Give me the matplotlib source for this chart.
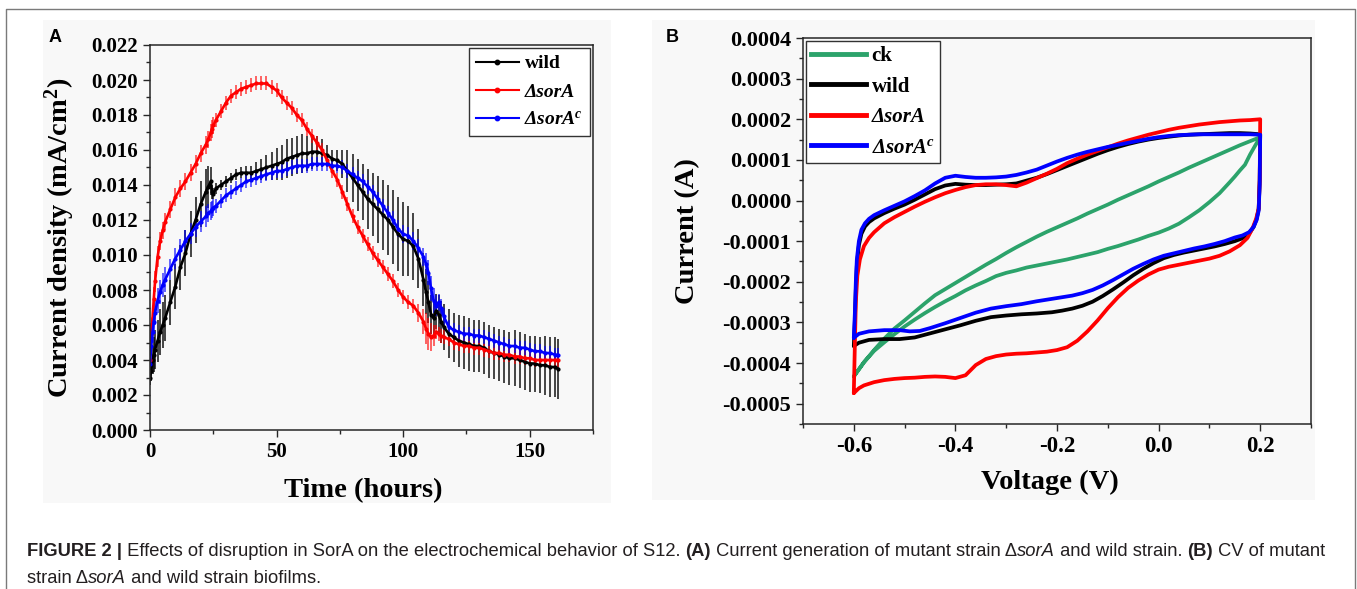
import matplotlib
matplotlib.use('Agg')
import matplotlib.pyplot as plt
from matplotlib.ticker import MultipleLocator, FuncFormatter
from matplotlib.lines import Line2D
from matplotlib.patches import Rectangle
from matplotlib.font_manager import FontProperties
from matplotlib.colors import to_rgba

plt.rcParams['font.family'] = ['Liberation Serif', 'DejaVu Serif']
plt.rcParams['font.weight'] = 'bold'
plt.rcParams['axes.unicode_minus'] = False
plt.rcParams['mathtext.fontset'] = 'custom'
plt.rcParams['mathtext.rm'] = 'Liberation Serif:bold'
plt.rcParams['mathtext.bf'] = 'Liberation Serif:bold'
plt.rcParams['mathtext.it'] = 'Liberation Serif:italic:bold'

# ---------------- Panel A data (current density, mA/cm^2) ----------------
time_h = [0, 0.5, 1, 1.5, 2, 3, 4, 5, 6,
          8, 10, 12, 14, 16, 18, 20, 22,
          23, 24, 24.5, 25,
          26, 28, 30, 32, 34, 36, 38, 40, 42, 44, 46, 48, 50, 52, 54, 56, 58, 60,
          62, 64, 66, 68, 70, 72, 74, 76, 78, 80, 82, 84, 86, 88, 90, 92, 94, 96,
          98, 100, 102, 104, 106, 108,
          109, 110, 111, 112, 113, 114, 115, 116,
          118, 120, 122, 124, 126, 128, 130, 132, 134, 136, 138, 140, 142, 144,
          146, 148, 150, 152, 154, 156, 158, 160,
          161]

wild_j = [0.0030, 0.0034, 0.0040, 0.0043, 0.0046, 0.0051, 0.0056, 0.0060, 0.0064,
          0.0073, 0.0082, 0.0093, 0.0101, 0.0112, 0.0120, 0.0129, 0.0136,
          0.0139, 0.0142, 0.0136, 0.0135,
          0.0138, 0.0140, 0.0142, 0.0144, 0.0146, 0.0147, 0.0147, 0.0147, 0.0148, 0.0149,
          0.0150, 0.0151, 0.0152, 0.0153, 0.0155, 0.0156, 0.0157, 0.0158,
          0.0158, 0.0159, 0.0159, 0.0158, 0.0157, 0.0155, 0.0154, 0.0152, 0.0148, 0.0144,
          0.0140, 0.0136, 0.0132, 0.0129, 0.0126, 0.0123, 0.0120, 0.0116,
          0.0112, 0.0109, 0.0108, 0.0105, 0.0098, 0.0086,
          0.0079, 0.0073, 0.0066, 0.0064, 0.0068, 0.0066, 0.0062, 0.0059,
          0.0055, 0.0053, 0.0051, 0.0050, 0.0049, 0.0048, 0.0048, 0.0047, 0.0045, 0.0044,
          0.0043, 0.0042, 0.0041, 0.0041, 0.0040, 0.0039, 0.0038, 0.0038, 0.0037, 0.0037,
          0.0036, 0.0036,
          0.0035]
wild_err = [0.0004, 0.0006, 0.0008, 0.0010, 0.0011, 0.0012, 0.0013, 0.0013, 0.0013,
            0.0013, 0.0013, 0.0013, 0.0013, 0.0013, 0.0013, 0.0013, 0.0013,
            0.0012, 0.0008, 0.0004, 0.0003,
            0.0003, 0.0003, 0.0003, 0.0003, 0.0003, 0.0003, 0.0004, 0.0004, 0.0005, 0.0006,
            0.0007, 0.0008, 0.0009, 0.0010, 0.0011, 0.0011, 0.0011, 0.0011,
            0.0010, 0.0010, 0.0009, 0.0008, 0.0006, 0.0005, 0.0006, 0.0008, 0.0012, 0.0014,
            0.0015, 0.0016, 0.0017, 0.0018, 0.0019, 0.0020, 0.0020, 0.0021,
            0.0021, 0.0021, 0.0020, 0.0019, 0.0017, 0.0015,
            0.0013, 0.0012, 0.0011, 0.0010, 0.0010, 0.0011, 0.0012, 0.0013,
            0.0014, 0.0014, 0.0015, 0.0015, 0.0015, 0.0015, 0.0015, 0.0015, 0.0015, 0.0015,
            0.0015, 0.0015, 0.0015, 0.0016, 0.0016, 0.0016, 0.0016, 0.0016, 0.0016, 0.0017,
            0.0017, 0.0017,
            0.0017]

sorA_j = [0.0040, 0.0055, 0.0064, 0.0075, 0.0085, 0.0099, 0.0108, 0.0114, 0.0119,
          0.0126, 0.0133, 0.0138, 0.0142, 0.0147, 0.0152, 0.0158, 0.0163,
          0.0166, 0.0170, 0.0172, 0.0174,
          0.0177, 0.0182, 0.0187, 0.0191, 0.0193, 0.0195, 0.0196, 0.0197, 0.0198, 0.0198,
          0.0198, 0.0196, 0.0194, 0.0190, 0.0187, 0.0184, 0.0180, 0.0177,
          0.0172, 0.0168, 0.0164, 0.0160, 0.0154, 0.0148, 0.0143, 0.0136, 0.0129, 0.0122,
          0.0116, 0.0111, 0.0106, 0.0101, 0.0097, 0.0093, 0.0089, 0.0085,
          0.0080, 0.0076, 0.0073, 0.0071, 0.0067, 0.0062,
          0.0058, 0.0055, 0.0053, 0.0054, 0.0056, 0.0055, 0.0054, 0.0053,
          0.0052, 0.0050, 0.0049, 0.0048, 0.0048, 0.0047, 0.0047, 0.0046, 0.0045, 0.0044,
          0.0044, 0.0043, 0.0043, 0.0042, 0.0042, 0.0041, 0.0041, 0.0040, 0.0040, 0.0040,
          0.0040, 0.0040,
          0.0040]
sorA_err = [0.0003, 0.0006, 0.0007, 0.0007, 0.0006, 0.0006, 0.0005, 0.0005, 0.0005,
            0.0005, 0.0005, 0.0005, 0.0005, 0.0005, 0.0005, 0.0005, 0.0005,
            0.0005, 0.0005, 0.0005, 0.0005,
            0.0004, 0.0004, 0.0004, 0.0004, 0.0004, 0.0004, 0.0004, 0.0004, 0.0004, 0.0004,
            0.0004, 0.0004, 0.0004, 0.0004, 0.0004, 0.0004, 0.0004, 0.0004,
            0.0004, 0.0004, 0.0004, 0.0004, 0.0004, 0.0004, 0.0004, 0.0004, 0.0004, 0.0004,
            0.0004, 0.0004, 0.0004, 0.0004, 0.0004, 0.0004, 0.0004, 0.0004,
            0.0004, 0.0004, 0.0004, 0.0004, 0.0005, 0.0007,
            0.0009, 0.0009, 0.0008, 0.0006, 0.0004, 0.0004, 0.0004, 0.0004,
            0.0004, 0.0004, 0.0004, 0.0004, 0.0004, 0.0004, 0.0004, 0.0004, 0.0004, 0.0004,
            0.0004, 0.0004, 0.0004, 0.0004, 0.0004, 0.0004, 0.0004, 0.0004, 0.0004, 0.0004,
            0.0004, 0.0004,
            0.0004]

sorAc_j = [0.0038, 0.0048, 0.0056, 0.0062, 0.0067, 0.0074, 0.0079, 0.0083, 0.0086,
           0.0092, 0.0098, 0.0103, 0.0108, 0.0112, 0.0116, 0.0119, 0.0122,
           0.0124, 0.0125, 0.0126, 0.0127,
           0.0128, 0.0131, 0.0134, 0.0136, 0.0138, 0.0140, 0.0142, 0.0143, 0.0144, 0.0145,
           0.0146, 0.0147, 0.0148, 0.0148, 0.0149, 0.0150, 0.0151, 0.0151,
           0.0151, 0.0152, 0.0152, 0.0152, 0.0152, 0.0151, 0.0151, 0.0150, 0.0148, 0.0146,
           0.0144, 0.0142, 0.0139, 0.0136, 0.0132, 0.0128, 0.0124, 0.0120,
           0.0115, 0.0112, 0.0111, 0.0108, 0.0104, 0.0099,
           0.0095, 0.0090, 0.0081, 0.0074, 0.0071, 0.0073, 0.0070, 0.0065,
           0.0059, 0.0057, 0.0056, 0.0055, 0.0055, 0.0054, 0.0054, 0.0053, 0.0052, 0.0051,
           0.0050, 0.0049, 0.0048, 0.0048, 0.0047, 0.0047, 0.0046, 0.0045, 0.0045, 0.0044,
           0.0044, 0.0043,
           0.0043]
sorAc_err = [0.0003, 0.0005, 0.0006, 0.0007, 0.0007, 0.0007, 0.0007, 0.0007, 0.0007,
             0.0006, 0.0006, 0.0006, 0.0006, 0.0006, 0.0006, 0.0006, 0.0006,
             0.0005, 0.0005, 0.0005, 0.0005,
             0.0004, 0.0004, 0.0004, 0.0004, 0.0004, 0.0004, 0.0004, 0.0004, 0.0004, 0.0004,
             0.0004, 0.0004, 0.0004, 0.0004, 0.0004, 0.0004, 0.0004, 0.0004,
             0.0004, 0.0004, 0.0004, 0.0004, 0.0004, 0.0004, 0.0004, 0.0004, 0.0004, 0.0004,
             0.0004, 0.0004, 0.0004, 0.0004, 0.0004, 0.0004, 0.0004, 0.0005,
             0.0005, 0.0005, 0.0005, 0.0005, 0.0005, 0.0005,
             0.0006, 0.0007, 0.0007, 0.0007, 0.0006, 0.0005, 0.0005, 0.0005,
             0.0004, 0.0004, 0.0004, 0.0004, 0.0004, 0.0004, 0.0004, 0.0004, 0.0004, 0.0004,
             0.0004, 0.0004, 0.0004, 0.0004, 0.0004, 0.0004, 0.0004, 0.0004, 0.0004, 0.0004,
             0.0004, 0.0004,
             0.0004]

# ---------------- Panel B data (CV, current in units of 1e-4 A) ----------------
ck_v = [-0.600, -0.580, -0.560, -0.540, -0.520, -0.500, -0.480, -0.460, -0.440, -0.420,
        -0.400, -0.380, -0.360, -0.340, -0.320, -0.300, -0.280, -0.260, -0.240, -0.220,
        -0.200, -0.180, -0.160, -0.140, -0.120, -0.100, -0.080, -0.060, -0.040, -0.020,
        0.000, 0.020, 0.040, 0.060, 0.080, 0.100, 0.120, 0.140, 0.160, 0.180, 0.200,
        0.190, 0.180, 0.170, 0.160, 0.150, 0.140, 0.120, 0.100, 0.080, 0.060, 0.040, 0.020,
        0.000, -0.020, -0.040, -0.060, -0.080, -0.100, -0.120, -0.140, -0.160, -0.180,
        -0.200, -0.220, -0.240, -0.260, -0.280, -0.300, -0.320, -0.340, -0.360, -0.380,
        -0.400, -0.420, -0.440, -0.460, -0.480, -0.500, -0.520, -0.540, -0.560, -0.580,
        -0.600]
ck_i = [-4.33, -3.98, -3.68, -3.40, -3.15, -2.95, -2.74, -2.53, -2.33, -2.18,
        -2.03, -1.88, -1.73, -1.58, -1.44, -1.29, -1.15, -1.02, -0.89, -0.77,
        -0.66, -0.55, -0.44, -0.32, -0.21, -0.10, 0.02, 0.13, 0.24, 0.35,
        0.47, 0.58, 0.69, 0.81, 0.92, 1.03, 1.14, 1.25, 1.36, 1.46, 1.56,
        1.35, 1.13, 0.88, 0.74, 0.59, 0.45, 0.18, -0.04, -0.24, -0.41, -0.57, -0.69,
        -0.79, -0.87, -0.96, -1.04, -1.12, -1.19, -1.27, -1.33, -1.39, -1.45,
        -1.50, -1.55, -1.60, -1.65, -1.72, -1.78, -1.86, -1.98, -2.09, -2.21,
        -2.35, -2.48, -2.62, -2.77, -2.93, -3.10, -3.29, -3.49, -3.70, -3.98,
        -4.33]

wild_v = [-0.600, -0.598, -0.596, -0.594, -0.590, -0.585, -0.578, -0.570, -0.560, -0.540,
          -0.520, -0.500, -0.480, -0.460, -0.440, -0.420, -0.400, -0.380, -0.360, -0.340,
          -0.320, -0.300, -0.280, -0.260, -0.240, -0.220, -0.200, -0.180, -0.160, -0.140,
          -0.120, -0.100, -0.080, -0.060, -0.040, -0.020, 0.000, 0.020, 0.040, 0.060,
          0.080, 0.100, 0.120, 0.140, 0.160, 0.180, 0.200,
          0.199, 0.197, 0.193, 0.187, 0.178, 0.165, 0.150, 0.130, 0.110, 0.090,
          0.070, 0.050, 0.030, 0.010, -0.010, -0.030, -0.050, -0.070, -0.090, -0.110,
          -0.130, -0.150, -0.170, -0.190, -0.210, -0.240, -0.270, -0.300, -0.330, -0.360,
          -0.390, -0.420, -0.450, -0.480, -0.510, -0.540, -0.570, -0.590, -0.600]
wild_i = [-3.58, -3.00, -2.20, -1.60, -1.10, -0.82, -0.64, -0.53, -0.44, -0.31,
          -0.20, -0.10, 0.02, 0.15, 0.28, 0.37, 0.41, 0.39, 0.38, 0.38,
          0.39, 0.40, 0.42, 0.49, 0.56, 0.65, 0.75, 0.85, 0.95, 1.05,
          1.15, 1.24, 1.32, 1.39, 1.45, 1.50, 1.54, 1.57, 1.60, 1.62,
          1.63, 1.64, 1.65, 1.66, 1.66, 1.65, 1.63,
          0.50, -0.20, -0.45, -0.65, -0.82, -0.93, -1.00, -1.07, -1.13, -1.18,
          -1.23, -1.28, -1.34, -1.42, -1.54, -1.68, -1.84, -2.02, -2.19, -2.35,
          -2.49, -2.59, -2.66, -2.71, -2.75, -2.78, -2.80, -2.83, -2.87, -2.96,
          -3.07, -3.17, -3.27, -3.37, -3.41, -3.41, -3.43, -3.50, -3.58]

sorA_v = [-0.600, -0.598, -0.596, -0.593, -0.588, -0.580, -0.570, -0.560, -0.540, -0.520,
          -0.500, -0.480, -0.460, -0.440, -0.420, -0.400, -0.380, -0.360, -0.340, -0.320,
          -0.300, -0.280, -0.260, -0.240, -0.220, -0.200, -0.180, -0.160, -0.140, -0.120,
          -0.100, -0.080, -0.060, -0.040, -0.020, 0.000, 0.020, 0.040, 0.060, 0.080,
          0.100, 0.120, 0.140, 0.160, 0.180, 0.200,
          0.199, 0.197, 0.192, 0.185, 0.175, 0.160, 0.140, 0.120, 0.100, 0.080,
          0.060, 0.040, 0.020, 0.000, -0.020, -0.040, -0.060, -0.080, -0.100, -0.120,
          -0.140, -0.160, -0.180, -0.200, -0.220, -0.240, -0.260, -0.280, -0.300, -0.320,
          -0.340, -0.360, -0.380, -0.400, -0.420, -0.440, -0.460, -0.480, -0.500, -0.520,
          -0.540, -0.560, -0.580, -0.590, -0.600]
sorA_i = [-4.74, -3.60, -2.50, -1.85, -1.45, -1.12, -0.92, -0.78, -0.56, -0.41,
          -0.28, -0.15, -0.03, 0.08, 0.18, 0.26, 0.33, 0.38, 0.40, 0.40,
          0.38, 0.35, 0.44, 0.55, 0.66, 0.78, 0.92, 1.03, 1.13, 1.22,
          1.31, 1.40, 1.48, 1.55, 1.62, 1.68, 1.74, 1.79, 1.83, 1.87,
          1.90, 1.93, 1.95, 1.97, 1.98, 2.00,
          0.50, -0.20, -0.45, -0.68, -0.92, -1.10, -1.25, -1.36, -1.43, -1.48,
          -1.53, -1.58, -1.63, -1.70, -1.82, -1.97, -2.15, -2.38, -2.65, -2.95,
          -3.22, -3.45, -3.61, -3.68, -3.72, -3.74, -3.76, -3.77, -3.79, -3.83,
          -3.90, -4.05, -4.30, -4.37, -4.34, -4.33, -4.34, -4.36, -4.37, -4.39,
          -4.42, -4.47, -4.55, -4.62, -4.74]

sorAc_v = [-0.600, -0.598, -0.596, -0.594, -0.590, -0.585, -0.578, -0.570, -0.560, -0.540,
           -0.520, -0.500, -0.480, -0.460, -0.440, -0.420, -0.400, -0.380, -0.360, -0.340,
           -0.320, -0.300, -0.280, -0.260, -0.240, -0.220, -0.200, -0.180, -0.160, -0.140,
           -0.120, -0.100, -0.080, -0.060, -0.040, -0.020, 0.000, 0.020, 0.040, 0.060,
           0.080, 0.100, 0.120, 0.140, 0.160, 0.180, 0.200,
           0.199, 0.197, 0.193, 0.187, 0.178, 0.165, 0.150, 0.130, 0.110, 0.090,
           0.070, 0.050, 0.030, 0.010, -0.010, -0.030, -0.050, -0.070, -0.090, -0.110,
           -0.130, -0.150, -0.170, -0.190, -0.210, -0.240, -0.270, -0.300, -0.330, -0.360,
           -0.390, -0.420, -0.450, -0.470, -0.490, -0.510, -0.540, -0.570, -0.590, -0.600]
sorAc_i = [-3.38, -2.80, -2.00, -1.45, -1.00, -0.72, -0.56, -0.45, -0.36, -0.24,
           -0.13, -0.02, 0.11, 0.25, 0.42, 0.56, 0.61, 0.58, 0.56, 0.56,
           0.57, 0.59, 0.63, 0.69, 0.76, 0.86, 0.96, 1.05, 1.13, 1.20,
           1.26, 1.32, 1.37, 1.42, 1.47, 1.52, 1.56, 1.59, 1.61, 1.62,
           1.63, 1.63, 1.63, 1.63, 1.63, 1.63, 1.62,
           0.40, -0.25, -0.48, -0.65, -0.78, -0.86, -0.91, -1.00, -1.07, -1.13,
           -1.18, -1.24, -1.30, -1.36, -1.45, -1.56, -1.68, -1.82, -1.96, -2.09,
           -2.20, -2.28, -2.34, -2.38, -2.42, -2.48, -2.55, -2.60, -2.66, -2.76,
           -2.89, -3.02, -3.14, -3.21, -3.22, -3.19, -3.19, -3.22, -3.28, -3.38]

labels_A = ['wild', 'ΔsorA', 'ΔsorA$^{c}$']
labels_B = ['ck', 'wild', 'ΔsorA', 'ΔsorA$^{c}$']
colors_A = ['black', '#ff0000', '#0000ff']
colors_B = ['#2ca36b', 'black', '#ff0000', '#0000ff']

caption_1 = [('FIGURE 2 |', 'bold', 'normal'),
             (' Effects of disruption in SorA on the electrochemical behavior of S12. ', 'normal', 'normal'),
             ('(A)', 'bold', 'normal'),
             (' Current generation of mutant strain Δ', 'normal', 'normal'),
             ('sorA', 'normal', 'italic'),
             (' and wild strain. ', 'normal', 'normal'),
             ('(B)', 'bold', 'normal'),
             (' CV of mutant', 'normal', 'normal')]
caption_2 = [('strain Δ', 'normal', 'normal'),
             ('sorA', 'normal', 'italic'),
             (' and wild strain biofilms.', 'normal', 'normal')]

# ---------------- Figure ----------------
W, H = 1357, 589
fig = plt.figure(figsize=(W / 100, H / 100), dpi=100)
fig.patch.set_facecolor('white')


def px_rect(x0, y0, x1, y1):
    return [x0 / W, 1 - y1 / H, (x1 - x0) / W, (y1 - y0) / H]


BG = '#f8f8f8'
for (x0, y0, x1, y1) in [(43, 20, 611, 503), (652, 20, 1315, 500)]:
    r = px_rect(x0, y0, x1, y1)
    fig.add_artist(Rectangle((r[0], r[1]), r[2], r[3], transform=fig.transFigure,
                             facecolor=BG, edgecolor='none', zorder=-5))

# outer frame (open at bottom)
fig.add_artist(Line2D([6 / W, 6 / W, 1355 / W, 1355 / W], [0, 1 - 9 / H, 1 - 9 / H, 0],
                      transform=fig.transFigure, color='#7a7a7a', lw=1.0))

SPINE = '#262626'


def style_axes(ax, tick_size):
    ax.set_facecolor(BG)
    for s in ax.spines.values():
        s.set_color(SPINE)
        s.set_linewidth(1.1)
    ax.tick_params(which='both', direction='out', top=False, right=False,
                   colors=SPINE, labelcolor='black', labelsize=tick_size, width=1.0)
    ax.tick_params(which='major', length=5)
    ax.tick_params(which='minor', length=3)


# ---- Panel A ----
axA = fig.add_axes(px_rect(150, 45, 593, 430))
style_axes(axA, 15)
seriesA = [(wild_j, wild_err), (sorA_j, sorA_err), (sorAc_j, sorAc_err)]
ealpha = [0.85, 0.7, 0.7]
for (yv, ev), c, ea in zip(seriesA, colors_A, ealpha):
    axA.errorbar(time_h, yv, yerr=ev, color=c, lw=1.9, marker='o', ms=2.0,
                 elinewidth=1.2, ecolor=to_rgba(c, ea), capsize=0)
axA.set_xlim(0, 175)
axA.set_ylim(0, 0.022)
axA.xaxis.set_major_locator(MultipleLocator(50))
axA.xaxis.set_minor_locator(MultipleLocator(25))
axA.yaxis.set_major_locator(MultipleLocator(0.002))
axA.yaxis.set_minor_locator(MultipleLocator(0.001))
axA.yaxis.set_major_formatter(FuncFormatter(lambda v, p: f"{round(v, 3) + 0:.3f}"))
axA.xaxis.set_major_formatter(FuncFormatter(lambda v, p: f"{int(round(v))}"))
axA.set_xlabel('Time (hours)', fontsize=20.5, fontweight='bold')
axA.set_ylabel('Current density (mA/cm$^{2}$)', fontsize=20.5, fontweight='bold')
axA.xaxis.set_label_coords(0.481, -0.125)
axA.yaxis.set_label_coords(-0.165, 0.5)

hA = [Line2D([], [], color=c, lw=1.5, marker='o', ms=3.2) for c in colors_A]
legA = axA.legend(hA, labels_A, loc='upper right', fontsize=14, frameon=True,
                  fancybox=False, edgecolor='#333333', facecolor='white', framealpha=1,
                  borderaxespad=0.15, handlelength=2.2, handletextpad=0.3,
                  labelspacing=0.55, borderpad=0.35)
legA.get_frame().set_linewidth(1.0)
for i, t in enumerate(legA.get_texts()):
    t.set_fontweight('bold')
    if i > 0:
        t.set_fontstyle('italic')

# ---- Panel B ----
axB = fig.add_axes(px_rect(803, 38, 1311, 424))
style_axes(axB, 16)
axB.tick_params(axis='x', labelsize=16.5)
seriesB = [(ck_v, ck_i), (wild_v, wild_i), (sorA_v, sorA_i), (sorAc_v, sorAc_i)]
for (vv, ii), c in zip(seriesB, colors_B):
    axB.plot(vv, [x * 1e-4 for x in ii], color=c, lw=2.7, solid_joinstyle='round',
             solid_capstyle='round')
axB.set_xlim(-0.7, 0.3)
axB.set_ylim(-0.00055, 0.0004)
axB.xaxis.set_major_locator(MultipleLocator(0.2))
axB.xaxis.set_minor_locator(MultipleLocator(0.1))
axB.yaxis.set_major_locator(MultipleLocator(0.0001))
axB.yaxis.set_minor_locator(MultipleLocator(0.00005))
axB.yaxis.set_major_formatter(FuncFormatter(lambda v, p: f"{round(v, 4) + 0:.4f}"))
axB.xaxis.set_major_formatter(FuncFormatter(lambda v, p: f"{round(v, 1) + 0:.1f}"))
axB.set_xlabel('Voltage (V)', fontsize=20.5, fontweight='bold')
axB.set_ylabel('Current (A)', fontsize=20.5, fontweight='bold')
axB.xaxis.set_label_coords(0.486, -0.118)
axB.yaxis.set_label_coords(-0.203, 0.5)

hB = [Line2D([], [], color=c, lw=3.5) for c in colors_B]
legB = axB.legend(hB, labels_B, loc='upper left', fontsize=15, frameon=True,
                  fancybox=False, edgecolor='#333333', facecolor='white', framealpha=1,
                  borderaxespad=0.15, handlelength=2.6, handletextpad=0.3,
                  labelspacing=0.5, borderpad=0.25)
legB.get_frame().set_linewidth(1.0)
for i, t in enumerate(legB.get_texts()):
    t.set_fontweight('bold')
    if i > 1:
        t.set_fontstyle('italic')

for ax in (axA, axB):
    for lab in ax.get_xticklabels() + ax.get_yticklabels():
        lab.set_fontweight('bold')

# panel letters
fig.text(55 / W, 1 - 37 / H, 'A', family='Liberation Sans', weight='bold', fontsize=13,
         ha='center', va='center')
fig.text(672 / W, 1 - 37 / H, 'B', family='Liberation Sans', weight='bold', fontsize=13,
         ha='center', va='center')

# ---------------- Caption ----------------
renderer = fig.canvas.get_renderer()
CAP_SIZE = 13.2
CAP_COLOR = '#231f20'


def fp(weight, style):
    return FontProperties(family='Liberation Sans', weight=weight, style=style, size=CAP_SIZE)


def adv_width(s, prop):
    t1 = fig.text(0, 0, '|' + s + '|', fontproperties=prop)
    t2 = fig.text(0, 0, '||', fontproperties=prop)
    w = t1.get_window_extent(renderer).width - t2.get_window_extent(renderer).width
    t1.remove()
    t2.remove()
    return w


def draw_runs(runs, x0, ybase):
    x = x0
    for s, wgt, sty in runs:
        prop = fp(wgt, sty)
        fig.text(x / W, 1 - ybase / H, s, fontproperties=prop, color=CAP_COLOR,
                 ha='left', va='baseline')
        x += adv_width(s, prop)


draw_runs(caption_1, 27, 556)
draw_runs(caption_2, 27, 583)

fig.savefig('out.png', dpi=100, facecolor='white')
